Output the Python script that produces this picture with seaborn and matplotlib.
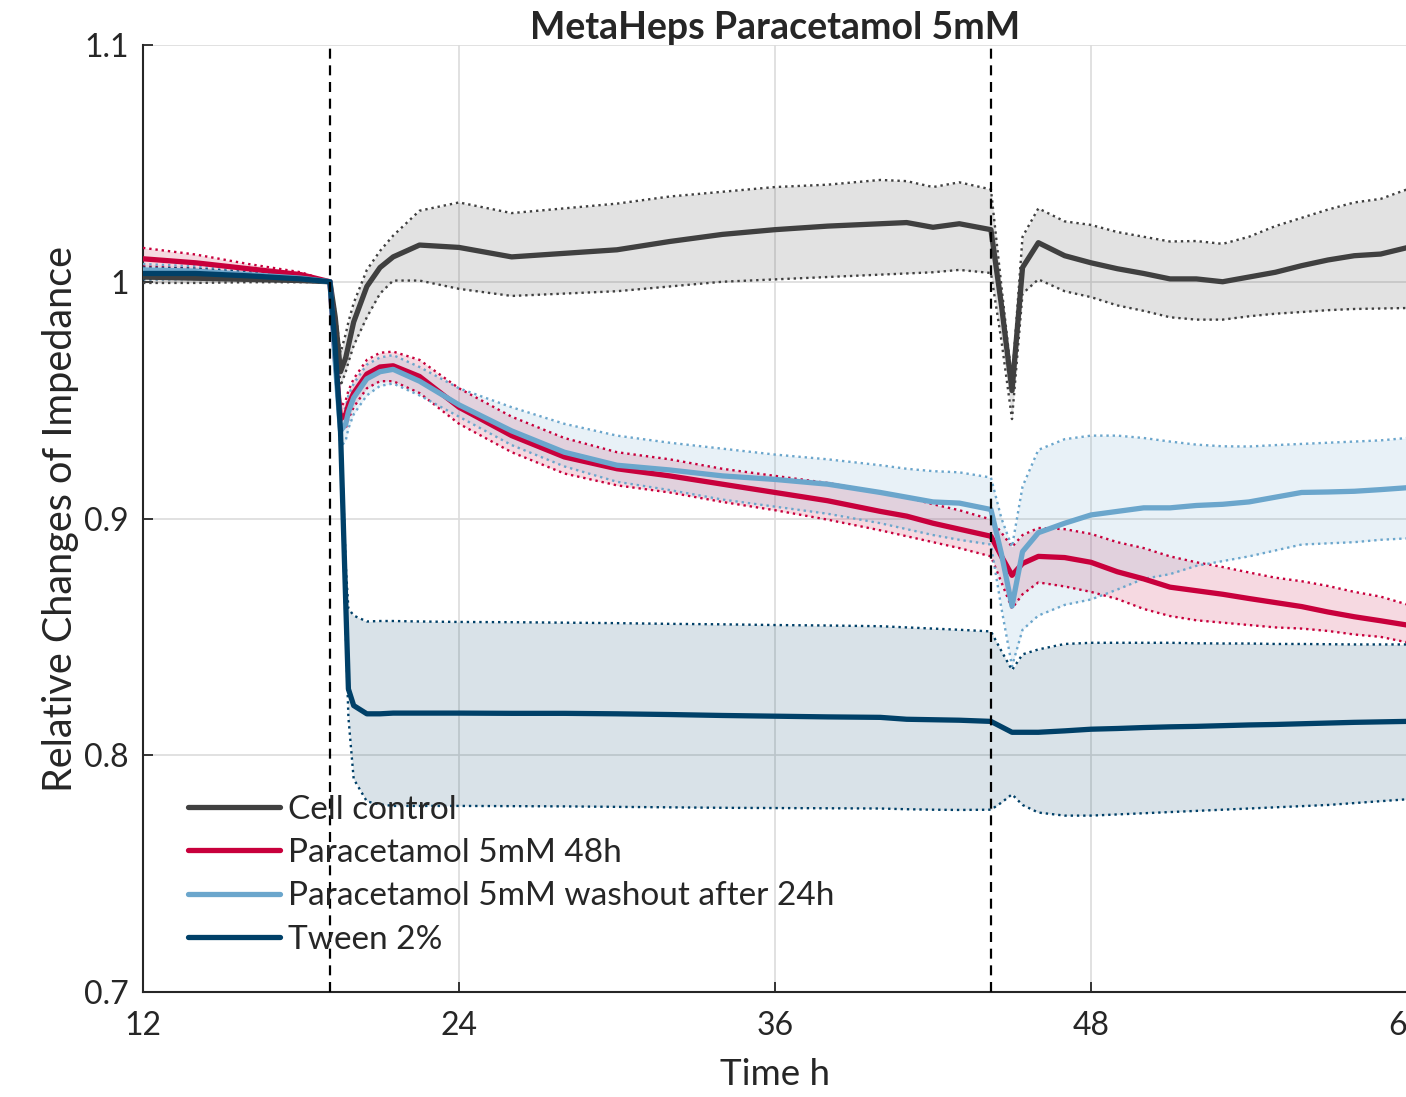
import numpy as np
import pandas as pd
from matplotlib import pyplot as plt
import seaborn as sb

# time points in hours
time_h = [12, 14, 16, 18, 19.1, 19.3, 19.5, 19.7, 19.8, 20, 20.5, 21, 21.5, 22.5, 24,
          26, 28, 30, 32, 34, 36, 38, 40, 41, 42, 43, 44.2, 44.6, 45, 45.4,
          46, 47, 48, 49, 50, 51, 52, 53, 54, 55, 56, 57, 58, 59, 60]

# cell control
cc_mean = [1.002, 1.0015, 1.001, 1.0005, 1.0, 0.985, 0.962, 0.968, 0.973, 0.983,
           0.998, 1.006, 1.0105, 1.0155, 1.0145, 1.0105, 1.012, 1.0135, 1.017, 1.020,
           1.022, 1.0235, 1.0245, 1.025, 1.023, 1.0245, 1.022, 0.990, 0.954, 1.006,
           1.0165, 1.011, 1.008, 1.0055, 1.0035, 1.0012, 1.0012, 1.0, 1.002, 1.004,
           1.0068, 1.0092, 1.011, 1.0117, 1.0144]
cc_hi = [1.004, 1.0035, 1.003, 1.0015, 1.0, 0.988, 0.970, 0.978, 0.983, 0.991,
         1.005, 1.013, 1.0195, 1.030, 1.0335, 1.029, 1.031, 1.033, 1.036, 1.038,
         1.040, 1.041, 1.043, 1.0425, 1.040, 1.042, 1.039, 0.998, 0.958, 1.019,
         1.031, 1.0255, 1.024, 1.021, 1.019, 1.017, 1.0172, 1.016, 1.019, 1.0235,
         1.027, 1.0305, 1.0335, 1.035, 1.039]
cc_lo = [0.9995, 0.9995, 0.9998, 0.9998, 1.0, 0.982, 0.956, 0.962, 0.966, 0.973,
         0.985, 0.995, 1.0005, 1.0005, 0.997, 0.994, 0.995, 0.996, 0.998, 1.0,
         1.001, 1.002, 1.003, 1.0035, 1.004, 1.005, 1.0037, 0.975, 0.942, 0.995,
         1.001, 0.996, 0.9935, 0.990, 0.9877, 0.985, 0.984, 0.984, 0.9854, 0.9865,
         0.9872, 0.988, 0.9885, 0.9887, 0.9889]

# paracetamol 5mM 48h
para_mean = [1.0097, 1.008, 1.0055, 1.003, 1.0, 0.968, 0.942, 0.944, 0.948, 0.953,
             0.961, 0.964, 0.9645, 0.960, 0.947, 0.935, 0.926, 0.921, 0.918, 0.9145,
             0.911, 0.9075, 0.903, 0.901, 0.898, 0.8955, 0.8925, 0.884, 0.876, 0.881,
             0.884, 0.8835, 0.8815, 0.8775, 0.8745, 0.871, 0.8695, 0.868, 0.8662, 0.8645,
             0.8628, 0.8605, 0.8585, 0.8568, 0.855]
para_hi = [1.0143, 1.0115, 1.0075, 1.004, 1.0, 0.971, 0.947, 0.950, 0.954, 0.959,
           0.967, 0.970, 0.9705, 0.967, 0.955, 0.943, 0.934, 0.928, 0.925, 0.921,
           0.918, 0.915, 0.911, 0.909, 0.906, 0.9035, 0.8996, 0.894, 0.888, 0.893,
           0.896, 0.8955, 0.8935, 0.890, 0.8875, 0.884, 0.8815, 0.8795, 0.8772, 0.875,
           0.8735, 0.8715, 0.869, 0.867, 0.8637]
para_lo = [1.0065, 1.0055, 1.0035, 1.002, 1.0, 0.965, 0.937, 0.938, 0.942, 0.947,
           0.955, 0.958, 0.958, 0.953, 0.940, 0.928, 0.919, 0.914, 0.911, 0.907,
           0.9035, 0.8995, 0.895, 0.8925, 0.890, 0.8875, 0.884, 0.873, 0.862, 0.868,
           0.873, 0.8713, 0.869, 0.866, 0.8618, 0.8588, 0.857, 0.856, 0.855, 0.854,
           0.8535, 0.8525, 0.851, 0.850, 0.8477]

# paracetamol 5mM washout after 24h
wash_mean = [1.005, 1.0045, 1.003, 1.0015, 1.0, 0.966, 0.937, 0.940, 0.945, 0.951,
             0.959, 0.962, 0.963, 0.958, 0.948, 0.937, 0.928, 0.9225, 0.9205, 0.918,
             0.9165, 0.9145, 0.911, 0.909, 0.907, 0.9065, 0.9038, 0.885, 0.863, 0.886,
             0.894, 0.898, 0.9015, 0.903, 0.9045, 0.9045, 0.9055, 0.906, 0.907, 0.909,
             0.911, 0.9112, 0.9115, 0.9122, 0.913]
wash_hi = [1.0075, 1.0065, 1.0045, 1.002, 1.0, 0.969, 0.943, 0.947, 0.952, 0.957,
           0.965, 0.968, 0.969, 0.964, 0.955, 0.947, 0.940, 0.935, 0.932, 0.9295,
           0.927, 0.925, 0.9225, 0.921, 0.920, 0.9195, 0.9173, 0.900, 0.888, 0.9135,
           0.929, 0.9335, 0.935, 0.935, 0.934, 0.9325, 0.9312, 0.9305, 0.9304, 0.931,
           0.9315, 0.932, 0.9325, 0.933, 0.934]
wash_lo = [1.0015, 1.0015, 1.001, 1.0005, 1.0, 0.963, 0.930, 0.933, 0.938, 0.944,
           0.952, 0.956, 0.957, 0.952, 0.943, 0.931, 0.922, 0.9155, 0.912, 0.908,
           0.905, 0.902, 0.898, 0.8955, 0.893, 0.891, 0.889, 0.862, 0.8376, 0.853,
           0.859, 0.8635, 0.8658, 0.870, 0.8745, 0.8765, 0.880, 0.882, 0.884, 0.8865,
           0.889, 0.8895, 0.890, 0.891, 0.8916]

# tween 2%
tween_mean = [1.0035, 1.0035, 1.0025, 1.0012, 1.0, 0.972, 0.937, 0.864, 0.828, 0.821,
              0.8175, 0.8175, 0.8178, 0.8178, 0.8178, 0.8177, 0.8177, 0.8175, 0.8172, 0.8168,
              0.8165, 0.8162, 0.816, 0.8152, 0.815, 0.8148, 0.8143, 0.812, 0.8097, 0.8097,
              0.8097, 0.8103, 0.811, 0.8113, 0.8117, 0.812, 0.8122, 0.8125, 0.8128, 0.813,
              0.8133, 0.8136, 0.8139, 0.8141, 0.8143]
tween_hi = [1.006, 1.0055, 1.004, 1.002, 1.0, 0.975, 0.942, 0.880, 0.862, 0.859,
            0.8565, 0.8567, 0.8567, 0.8565, 0.8563, 0.8562, 0.856, 0.8558, 0.8555, 0.8553,
            0.855, 0.8548, 0.8545, 0.854, 0.8535, 0.853, 0.8523, 0.844, 0.836, 0.8426,
            0.8447, 0.847, 0.8475, 0.8475, 0.8475, 0.8475, 0.8473, 0.8472, 0.8472, 0.847,
            0.847, 0.8469, 0.8468, 0.8468, 0.8468]
tween_lo = [1.001, 1.0012, 1.001, 1.0005, 1.0, 0.969, 0.930, 0.852, 0.816, 0.790,
            0.7805, 0.7792, 0.7786, 0.7786, 0.7786, 0.7785, 0.7784, 0.7782, 0.778, 0.7778,
            0.7777, 0.7776, 0.7775, 0.7772, 0.777, 0.7769, 0.777, 0.780, 0.7835, 0.779,
            0.7758, 0.7745, 0.7745, 0.775, 0.7755, 0.776, 0.7765, 0.777, 0.7775, 0.778,
            0.7785, 0.779, 0.7798, 0.7806, 0.7814]

groups = ["Cell control", "Paracetamol 5mM 48h", "Paracetamol 5mM washout after 24h", "Tween 2%"]
colors = ["#404040", "#c8003c", "#6ba6cc", "#004068"]
medium_change_h = [19.1, 44.2]

x_ticks = [12, 24, 36, 48, 60]
y_ticks = [0.7, 0.8, 0.9, 1.0, 1.1]
y_tick_labels = ["0.7", "0.8", "0.9", "1", "1.1"]

# long table for seaborn
means = [cc_mean, para_mean, wash_mean, tween_mean]
his = [cc_hi, para_hi, wash_hi, tween_hi]
los = [cc_lo, para_lo, wash_lo, tween_lo]
rows = []
for g, m, h, l in zip(groups, means, his, los):
    for t, mv, hv, lv in zip(time_h, m, h, l):
        rows.append({"time": t, "group": g, "mean": mv, "hi": hv, "lo": lv})
df = pd.DataFrame(rows)

sb.set_style("white")
plt.rcParams["font.family"] = ["Lato", "DejaVu Sans"]

fig = plt.figure(figsize=(14.06, 10.97), dpi=100)
ax = fig.add_axes([143 / 1406, 1 - 992 / 1097, 1264 / 1406, 947 / 1097])

palette = dict(zip(groups, colors))

# shaded bands + dotted bounds
for g in groups:
    d = df[df["group"] == g]
    ax.fill_between(d["time"], d["lo"], d["hi"], color=palette[g], alpha=0.15, linewidth=0, zorder=2)
    sb.lineplot(data=d, x="time", y="hi", color=palette[g], linestyle=":", linewidth=1.7, ax=ax, zorder=3)
    sb.lineplot(data=d, x="time", y="lo", color=palette[g], linestyle=":", linewidth=1.7, ax=ax, zorder=3)

# mean curves
sb.lineplot(data=df, x="time", y="mean", hue="group", hue_order=groups, palette=palette,
            linewidth=3.8, ax=ax, zorder=4)

# medium change markers
for t in medium_change_h:
    ax.axvline(t, color="black", linestyle=(0, (4.5, 3)), linewidth=1.6, zorder=5)

ax.set_xlim(12, 60)
ax.set_ylim(0.7, 1.1)
ax.set_xticks(x_ticks)
ax.set_yticks(y_ticks)
ax.set_yticklabels(y_tick_labels)
ax.grid(True, color="#dcdcdc", linewidth=1.2)
ax.set_axisbelow(True)
for s in ["top", "right"]:
    ax.spines[s].set_visible(False)
for s in ["left", "bottom"]:
    ax.spines[s].set_color("#262626")
    ax.spines[s].set_linewidth(1.5)
ax.tick_params(direction="in", length=7, width=1.3, colors="#262626", labelsize=23, pad=10,
               left=True, bottom=True)
ax.tick_params(axis="x", pad=14)

ax.set_xlabel("Time h", fontsize=26.5, color="#262626", labelpad=12)
ax.set_ylabel("Relative Changes of Impedance", fontsize=28.5, color="#262626", labelpad=4)
ax.set_title("MetaHeps Paracetamol 5mM", fontsize=27, fontweight="bold", pad=4)

leg = ax.legend(loc="upper left", bbox_to_anchor=(0.012, 0.240), frameon=False, fontsize=24,
                handlelength=2.76, handletextpad=0.24, labelspacing=0.4)
for line in leg.get_lines():
    line.set_linewidth(3.8)

plt.savefig("out.png", dpi=100)
